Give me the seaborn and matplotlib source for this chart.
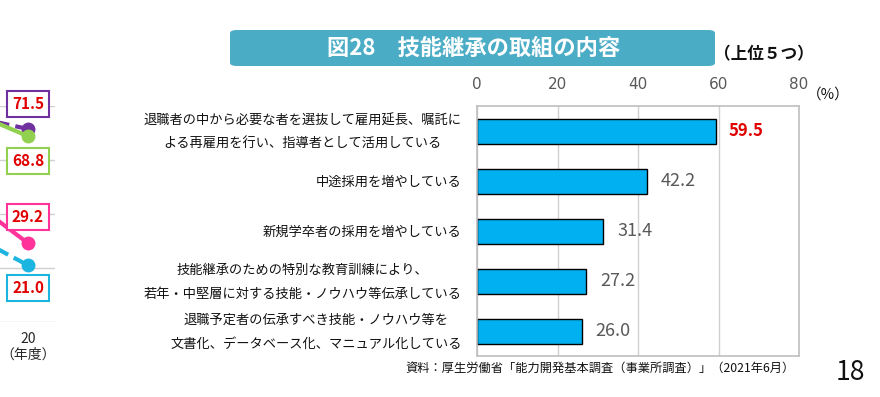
import matplotlib
matplotlib.use("Agg")
import matplotlib.pyplot as plt
from matplotlib.patches import FancyBboxPatch
import seaborn as sns
import pandas as pd

# main chart data
categories = [
    "退職者の中から必要な者を選抜して雇用延長、嘱託に\nよる再雇用を行い、指導者として活用している",
    "中途採用を増やしている",
    "新規学卒者の採用を増やしている",
    "技能継承のための特別な教育訓練により、\n若年・中堅層に対する技能・ノウハウ等伝承している",
    "退職予定者の伝承すべき技能・ノウハウ等を\n文書化、データベース化、マニュアル化している",
]
values = [59.5, 42.2, 31.4, 27.2, 26.0]
x_ticks = [0, 20, 40, 60, 80]

# cut-off neighbour chart on the left (previous year is off screen)
side_years = [19, 20]
side_purple = [76.3, 71.5]
side_green = [78.3, 68.8]
side_pink = [45.9, 29.2]
side_cyan = [32.9, 21.0]

sns.set_theme(style="white")
plt.rcParams["font.family"] = ["Noto Sans CJK JP", "DejaVu Sans"]

fig = plt.figure(figsize=(8.8, 3.97), dpi=100)

# ---- main bar chart
ax = fig.add_axes([477 / 880, 1 - 356 / 397, 322 / 880, 250 / 397])
df = pd.DataFrame({"cat": categories, "val": values})
sns.barplot(data=df, x="val", y="cat", orient="h", color="#00B0F0",
            edgecolor="black", linewidth=1.0, width=0.5, saturation=1, ax=ax)
ax.set_xlim(0, 80)
ax.set_ylim(4.5, -0.5)
ax.set_xticks(x_ticks)
ax.xaxis.tick_top()
ax.tick_params(axis="x", length=0, pad=10, labelsize=11, labelcolor="#595959")
for t in ax.get_xticklabels():
    t.set_fontfamily(["Liberation Sans Narrow", "DejaVu Sans"])
ax.set_yticks([])
ax.set_xlabel("")
ax.set_ylabel("")
ax.grid(axis="x", color="#D0D0D0", linewidth=1)
ax.set_axisbelow(True)
for s in ax.spines.values():
    s.set_color("#BFBFBF")
    s.set_linewidth(1.2)

for i, (c, v) in enumerate(zip(categories, values)):
    ax.text(-0.047, i + 0.03, c, transform=ax.get_yaxis_transform(), ha="right",
            va="center", multialignment="center", fontsize=9.5,
            linespacing=2.1, color="#111111")
    if i == 0:
        ax.text(v + 3.0, i, f"{v:.1f}", va="center", ha="left", fontsize=12,
                fontweight="bold", color="#E00000")
    else:
        ax.text(v + 3.5, i, f"{v:.1f}", va="center", ha="left", fontsize=13,
                color="#595959")

fig.text(828 / 880, 1 - 95 / 397, "（%）", ha="center", va="center",
         fontsize=10.5, color="#111111")

# ---- title banner
banner = FancyBboxPatch((230 / 880, 1 - 66 / 397), 485 / 880, 36 / 397,
                        boxstyle="round,pad=0,rounding_size=0.008",
                        transform=fig.transFigure, facecolor="#4BACC6",
                        edgecolor="none")
fig.patches.append(banner)
fig.text(474 / 880, 1 - 48 / 397, "図28\u2002\u2002技能継承の取組の内容", ha="center",
         va="center", fontsize=16, fontweight="bold", color="white")
fig.text(764 / 880, 1 - 54 / 397, "（上位５つ）", ha="center", va="center",
         fontsize=12, fontweight="bold", color="#111111")

# ---- left cut-off line chart
ax2 = fig.add_axes([0, 1 - 322 / 397, 55 / 880, 216 / 397])
ax2.set_xlim(20 - 28 / 60, 20 + 27 / 60)
ax2.set_ylim(0, 80)
side = [("#7030A0", side_purple, (0, (2.5, 1.5))),
        ("#92D050", side_green, "-"),
        ("#FF3399", side_pink, "-"),
        ("#1CB5E0", side_cyan, (0, (2.5, 1.5)))]
for col, vals, ls in side:
    sns.lineplot(x=side_years, y=vals, color=col, linewidth=3, linestyle=ls,
                 ax=ax2)
    ax2.plot(side_years[-1], vals[-1], "o", color=col, markersize=9)
ax2.set_yticks([0, 20, 40, 60, 80])
ax2.set_yticklabels([])
ax2.tick_params(axis="y", length=0)
ax2.set_xticks([20])
ax2.set_xticklabels(["20\n（年度）"], fontsize=10)
ax2.tick_params(axis="x", length=0, pad=7)
ax2.grid(axis="y", color="#D0D0D0", linewidth=1)
for s in ax2.spines.values():
    s.set_visible(False)

boxes = [(71.5, 104, "#7030A0"), (68.8, 161, "#92D050"),
         (29.2, 217, "#FF3399"), (21.0, 288, "#1CB5E0")]
for v, ypx, col in boxes:
    fig.text(28 / 880, 1 - ypx / 397, f"{v:.1f}", ha="center", va="center",
             fontsize=11, fontweight="bold", color="#E00000",
             bbox=dict(boxstyle="square,pad=0.3", facecolor="white",
                       edgecolor=col, linewidth=1.5))

# ---- source and page number
fig.text(795 / 880, 1 - 368 / 397,
         "資料：厚生労働省「能力開発基本調査（事業所調査）」（2021年6月）",
         ha="right", va="center", fontsize=8.8, color="#111111")
fig.text(850 / 880, 1 - 373 / 397, "18", ha="center", va="center",
         fontsize=19, color="#111111")

fig.savefig("out.png", dpi=100)
